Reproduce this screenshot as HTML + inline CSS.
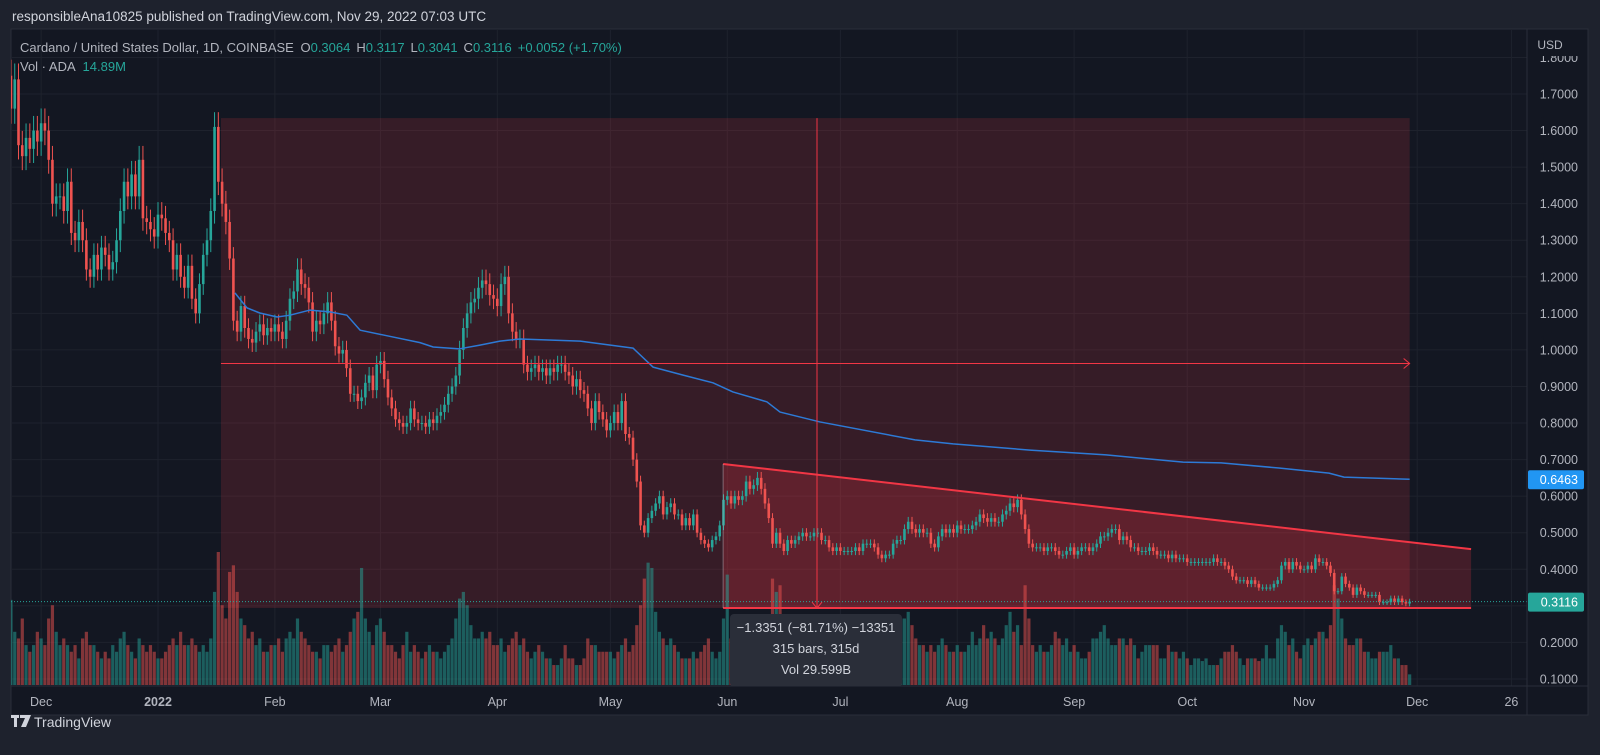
<!DOCTYPE html>
<html><head><meta charset="utf-8"><style>
html,body{margin:0;padding:0;background:#1e222d;}
svg{display:block;font-family:"Liberation Sans",sans-serif;}
</style></head><body>
<svg id="chart" width="1600" height="755" viewBox="0 0 1600 755" xmlns="http://www.w3.org/2000/svg">
<rect x="0" y="0" width="1600" height="755" fill="#1e222d"/>
<text x="12" y="21" fill="#d1d4dc" font-size="13.5">responsibleAna10825 published on TradingView.com, Nov 29, 2022 07:03 UTC</text>
<rect x="11" y="29" width="1577" height="686" fill="#131722" stroke="#2a2e39" stroke-width="1"/>
<g id="grid"></g>
<g id="overlays-back"></g>
<g id="volume"></g>
<g id="candles"></g>
<g id="overlays-front"></g>
<line x1="1527" y1="29" x2="1527" y2="715" stroke="#2a2e39"/>
<line x1="11" y1="686" x2="1588" y2="686" stroke="#2a2e39"/>
<g id="yaxis"></g>
<g id="xaxis"></g>
<text x="20" y="52" font-size="13" fill="#b2b5be">Cardano / United States Dollar, 1D, COINBASE <tspan dx="3">O</tspan><tspan fill="#26a69a">0.3064</tspan><tspan dx="6">H</tspan><tspan fill="#26a69a">0.3117</tspan><tspan dx="6">L</tspan><tspan fill="#26a69a">0.3041</tspan><tspan dx="6">C</tspan><tspan fill="#26a69a">0.3116</tspan><tspan dx="6" fill="#26a69a">+0.0052 (+1.70%)</tspan></text>
<text x="20" y="71" font-size="13" fill="#b2b5be">Vol · ADA <tspan dx="4" fill="#26a69a">14.89M</tspan></text>
<g>
<rect x="11" y="715" width="8" height="3" fill="#d1d4dc"/>
<rect x="14" y="715" width="3" height="12" fill="#d1d4dc"/>
<polygon points="20,715 31,715 26,727 21,727 25,718 20,718" fill="#d1d4dc"/>
<text x="34" y="727" font-size="14" fill="#d1d4dc">TradingView</text>
</g>
</svg>
<script>
const NS="http://www.w3.org/2000/svg";
// ---------- data ----------
const startOffset=-39; // first candle = Nov 23 2021 (days from Jan 1 2022)
const closeNov21=[1.66,1.74,1.56,1.53,1.58,1.55,1.60,1.57];
const closeDec21=[1.62,1.60,1.52,1.40,1.42,1.42,1.38,1.46,1.32,1.30,1.35,1.30,1.22,1.20,1.26,1.22,1.28,1.26,1.22,1.24,1.30,1.38,1.46,1.42,1.48,1.42,1.52,1.36,1.35,1.33,1.31];
const closeJan22=[1.37,1.36,1.32,1.30,1.22,1.26,1.20,1.17,1.23,1.14,1.10,1.18,1.26,1.30,1.38,1.61,1.46,1.40,1.35,1.25,1.08,1.05,1.12,1.06,1.03,1.02,1.05,1.07,1.04,1.06,1.05];
const closeFeb22=[1.07,1.05,1.03,1.08,1.14,1.16,1.22,1.18,1.17,1.13,1.05,1.08,1.07,1.10,1.13,1.08,1.01,0.99,1.00,0.95,0.88,0.88,0.86,0.87,0.91,0.93,0.89,0.96];
const closeMar22=[0.97,0.92,0.87,0.84,0.81,0.80,0.79,0.80,0.84,0.81,0.80,0.80,0.79,0.81,0.80,0.82,0.83,0.85,0.88,0.90,0.93,1.00,1.06,1.10,1.13,1.14,1.17,1.19,1.18,1.15,1.14];
const closeApr22=[1.12,1.18,1.20,1.10,1.05,1.03,1.03,0.96,0.94,0.95,0.96,0.94,0.95,0.93,0.95,0.94,0.96,0.96,0.94,0.93,0.90,0.92,0.89,0.88,0.84,0.80,0.86,0.83,0.81,0.78];
const closeMay22=[0.80,0.83,0.80,0.86,0.77,0.76,0.70,0.64,0.52,0.50,0.54,0.56,0.58,0.60,0.55,0.57,0.58,0.55,0.55,0.52,0.54,0.52,0.55,0.50,0.48,0.47,0.46,0.48,0.49,0.52,0.59];
const closeJun22=[0.60,0.58,0.60,0.59,0.60,0.64,0.62,0.63,0.65,0.62,0.58,0.54,0.47,0.50,0.47,0.45,0.48,0.47,0.48,0.49,0.50,0.49,0.49,0.50,0.50,0.48,0.48,0.46,0.45,0.46];
const closeJul22=[0.45,0.45,0.45,0.45,0.46,0.45,0.47,0.47,0.47,0.46,0.44,0.43,0.44,0.44,0.47,0.48,0.48,0.51,0.53,0.51,0.50,0.51,0.50,0.50,0.47,0.46,0.49,0.51,0.50,0.51,0.50];
const closeAug22=[0.52,0.51,0.51,0.51,0.52,0.53,0.55,0.54,0.53,0.54,0.53,0.53,0.55,0.56,0.58,0.57,0.59,0.55,0.51,0.47,0.46,0.46,0.46,0.45,0.46,0.46,0.45,0.44,0.44,0.45,0.46];
const closeSep22=[0.44,0.45,0.46,0.46,0.45,0.46,0.47,0.49,0.49,0.50,0.51,0.51,0.48,0.49,0.48,0.46,0.46,0.45,0.45,0.45,0.46,0.45,0.44,0.44,0.44,0.43,0.44,0.43,0.43,0.43];
const closeOct22=[0.42,0.42,0.42,0.42,0.42,0.42,0.42,0.43,0.42,0.42,0.41,0.40,0.38,0.37,0.37,0.37,0.36,0.37,0.36,0.35,0.35,0.35,0.35,0.36,0.37,0.41,0.42,0.40,0.42,0.41,0.40];
const closeNov22=[0.40,0.41,0.40,0.43,0.42,0.42,0.41,0.39,0.34,0.34,0.38,0.36,0.35,0.33,0.35,0.34,0.33,0.33,0.33,0.33,0.31,0.31,0.31,0.32,0.31,0.32,0.31,0.3064,0.3116];
const volNov21=[6.4,4,3.5,5,3,2.5,3,4];
const volDec21=[3.5,3,5,6,4,3,3.5,3,2.5,3,2,3.5,4,3,3,2.5,2,2.5,2,3,2.5,3.5,4,3,2.5,2,3.5,3,2.5,3,2.5];
const volJan22=[2,2,2.5,3,3.5,3,4,3,3,3.5,3,2.5,3,2.5,3.5,7,10,6,5,8.5,9,7,5,4.5,3.5,4,3,3.5,2.5,2.5,3];
const volFeb22=[3,3.5,2.5,3.5,4,3.5,5,4,3.5,3,2.5,2.5,2,3,3,2.5,3,3.5,2.5,3,4,5,5.5,8.8,5,4,3,4.5];
const volMar22=[5,4,3,3,2.5,2,3,4,2.5,3,2.5,2,2.5,3,2.5,2.5,2,2.5,3,3.5,5,6.5,7,6,4.5,3.5,3.5,4,3.5,4,3];
const volApr22=[3,3.5,2.5,3,3.5,4,3,3.5,2.5,2,2.5,3,2.5,2,2,1.5,1.5,2,3,2,2,1.5,1.5,2,3.5,3,3,2.5,2.5,2.5];
const volMay22=[2.5,2,2.5,3,3.5,2.5,3,4.5,6,8,9.2,8.8,5.5,4,3.5,3,3.5,3,2.5,2,2,2,2.5,2,2.5,3,3.5,2.5,2,2.5,5];
const volJun22=[8.3,3.5,3,2.5,2,4.5,4,4,3.5,3.5,3,4,8,7,7.5,4,3.5,3,3.5,3,2.5,3,2.5,2.5,2,2,2,1.8,2,2];
const volJul22=[2,1.8,1.5,2,2.5,2,2.5,2.5,2,1.5,2,2.5,3,3.5,3,4.5,5,5,5.5,4.5,3.5,3,3,2.5,3,2.5,3,3.5,3,2.5,2.5];
const volAug22=[3,2.5,2.5,3,4,3,3.5,4.5,3.5,4,3.5,3,3.5,4.5,5.5,4,4.5,3,7.5,5,3,2.5,3,2.5,2.5,3,4,3.5,3,3.5,2.5];
const volSep22=[3,2.5,2,2,2.5,3.5,3.5,4,4.5,3.5,3,3,3.5,3.5,3,3.5,3,2,2.5,3,3,3,3,2,2,3,2.5,2.5,2,2.5];
const volOct22=[2,1.5,2,2,1.8,2,1.5,1.5,1.5,2,2.5,2.5,3,2.5,2,1.5,2,2,2,1.8,2,3,2,2,3.5,4.5,4,3,3.5,2.5,2];
const volNov22=[3,3.5,3,3.5,4,4,3.5,4.5,7.5,6.5,5,3.5,3,3,3.5,3.5,2.5,2.5,2,2,2.5,2.5,2.5,3,2,2,1.5,1.5,0.8];
const maDays=[20.4,23.6,27,31.6,35,40.3,45.6,50.1,53.6,59.7,69.5,73,80,85.4,90.7,96,112,126,131.3,139.3,147.2,152.5,161.5,165,175.6,200.8,210.9,231.3,251.5,271.9,282,297.3,310.6,314.6,329.7,332];
const maValues=[1.156,1.115,1.101,1.09,1.095,1.109,1.104,1.095,1.054,1.041,1.02,1.008,1.003,1.013,1.024,1.03,1.024,1.005,0.953,0.931,0.91,0.885,0.858,0.83,0.803,0.754,0.743,0.726,0.713,0.693,0.691,0.677,0.663,0.652,0.647,0.6463];
const priceTicks=[1.8,1.7,1.6,1.5,1.4,1.3,1.2,1.1,1.0,0.9,0.8,0.7,0.6,0.5,0.4,0.3,0.2,0.1];
const timeTickDays=[-31,0,31,59,90,120,151,181,212,243,273,304,334,359];
const timeTickLabels=["Dec","2022","Feb","Mar","Apr","May","Jun","Jul","Aug","Sep","Oct","Nov","Dec","26"];
const lastPrice=0.3116, maLast=0.6463;
const boxTop=1.6341, boxBottom=0.294, boxStartDay=16.7, boxEndDay=332, midPrice=0.963, measureDay=174.8;
const trendStartDay=149.9, trendStartPrice=0.688, trendEndDay=348.3, trendEndPrice=0.455;

const closes=[].concat(closeNov21,closeDec21,closeJan22,closeFeb22,closeMar22,closeApr22,closeMay22,closeJun22,closeJul22,closeAug22,closeSep22,closeOct22,closeNov22);
const vols=[].concat(volNov21,volDec21,volJan22,volFeb22,volMar22,volApr22,volMay22,volJun22,volJul22,volAug22,volSep22,volOct22,volNov22);

// ---------- scales ----------
const X=d=>158+d*3.77;
const Y=p=>94+(1.7-p)*365.6;
const VOL_BASE=685, VOL_K=13.3;
function el(tag,attrs,parent){const e=document.createElementNS(NS,tag);for(const k in attrs)e.setAttribute(k,attrs[k]);parent.appendChild(e);return e;}
const clip=el('clipPath',{id:'plotclip'},document.getElementById('chart'));
el('rect',{x:11,y:29,width:1516,height:657},clip);
['grid','overlays-back','volume','candles','overlays-front'].forEach(id=>document.getElementById(id).setAttribute('clip-path','url(#plotclip)'));

// grid
const grid=document.getElementById('grid');
priceTicks.forEach(p=>{const l=el('line',{x1:11,x2:1527,y1:Y(p),y2:Y(p),stroke:'#1e222d','stroke-width':1},grid);

});
timeTickDays.forEach(d=>{const l=el('line',{x1:X(d),x2:X(d),y1:29,y2:686,stroke:'#1e222d','stroke-width':1},grid);

});

// back overlays
const ob=document.getElementById('overlays-back');
const box=el('rect',{x:X(boxStartDay),y:Y(boxTop),width:X(boxEndDay)-X(boxStartDay),height:Y(boxBottom)-Y(boxTop),fill:'rgba(242,54,69,0.16)'},ob);


const tri=el('polygon',{points:`${X(trendStartDay)},${Y(trendStartPrice)} ${X(trendEndDay)},${Y(trendEndPrice)} ${X(trendEndDay)},${Y(boxBottom)} ${X(trendStartDay)},${Y(boxBottom)}`,fill:'rgba(242,54,69,0.22)'},ob);



// volume
const vg=document.getElementById('volume');
closes.forEach((c,i)=>{const o=i?closes[i-1]:c;const h=vols[i]*VOL_K;
const r=el('rect',{x:X(startOffset+i)-1.6,y:VOL_BASE-h,width:3.2,height:h,fill:c>=o?'rgba(38,166,154,0.5)':'rgba(239,83,80,0.5)'},vg);

});

// candles
const cg=document.getElementById('candles');
closes.forEach((c,i)=>{const o=i?closes[i-1]:1.75;const up=c>=o;const col=up?'#26a69a':'#ef5350';
const hi=Math.max(o,c)*1.025, lo=Math.min(o,c)*0.975;const x=X(startOffset+i);
const w=el('line',{x1:x,x2:x,y1:Y(hi),y2:Y(lo),stroke:col,'stroke-width':1},cg);


const b=el('rect',{x:x-1.3,y:Y(Math.max(o,c)),width:2.6,height:Math.max(1,Y(Math.min(o,c))-Y(Math.max(o,c))),fill:col},cg);

});

// front overlays
const of=document.getElementById('overlays-front');
const maPts=maDays.map((d,i)=>X(d)+','+Y(maValues[i])).join(' ');
const ma=el('polyline',{points:maPts,fill:'none',stroke:'#2d7ad6','stroke-width':1.5,'stroke-linejoin':'round'},of);


const hl=el('line',{x1:X(boxStartDay),x2:X(boxEndDay),y1:Y(midPrice),y2:Y(midPrice),stroke:'#f23645','stroke-width':1},of);


const ha=el('polyline',{points:`${X(boxEndDay)-6},${Y(midPrice)-5} ${X(boxEndDay)},${Y(midPrice)} ${X(boxEndDay)-6},${Y(midPrice)+5}`,fill:'none',stroke:'#f23645'},of);


const vl=el('line',{x1:X(measureDay),x2:X(measureDay),y1:Y(boxTop),y2:Y(boxBottom),stroke:'#f23645','stroke-width':1},of);


const va=el('polyline',{points:`${X(measureDay)-5},${Y(boxBottom)-6} ${X(measureDay)},${Y(boxBottom)} ${X(measureDay)+5},${Y(boxBottom)-6}`,fill:'none',stroke:'#f23645'},of);


const tl=el('line',{x1:X(trendStartDay),y1:Y(trendStartPrice),x2:X(trendEndDay),y2:Y(trendEndPrice),stroke:'#f23645','stroke-width':2},of);


const bl=el('line',{x1:X(trendStartDay),y1:Y(boxBottom),x2:X(trendEndDay),y2:Y(boxBottom),stroke:'#f23645','stroke-width':2},of);


const tv=el('line',{x1:X(trendStartDay),y1:Y(trendStartPrice),x2:X(trendStartDay),y2:Y(boxBottom),stroke:'rgba(180,180,190,0.5)','stroke-width':1},of);


const pl=el('line',{x1:11,x2:1527,y1:Y(lastPrice),y2:Y(lastPrice),stroke:'#26a69a','stroke-width':1,'stroke-dasharray':'1 2'},of);


// tooltip
const tip=el('rect',{x:730,y:614,width:172,height:73,rx:4,fill:'#2a2e39'},of);


["−1.3351 (−81.71%) −13351","315 bars, 315d","Vol 29.599B"].forEach((t,i)=>{const tx=el('text',{x:816,y:632+i*21,'text-anchor':'middle','font-size':13,fill:'#d1d4dc'},of);tx.textContent=t;

});

// price axis
const ya=document.getElementById('yaxis');
priceTicks.forEach(p=>{const y=Y(p);const t=el('text',{x:1578,y:y+4.5,'text-anchor':'end','font-size':12.5,fill:'#b2b5be'},ya);t.textContent=p.toFixed(4);

});
const cover=el('rect',{x:1528,y:30,width:59,height:26,fill:'#131722'},ya);


const usd=el('text',{x:1550,y:49,'text-anchor':'middle','font-size':12,fill:'#b2b5be'},ya);usd.textContent='USD';


[[maLast,'#2196f3'],[lastPrice,'#26a69a']].forEach(([p,c])=>{const r=el('rect',{x:1528,y:Y(p)-9,width:56,height:19,rx:2,fill:c},ya);


const t=el('text',{x:1578,y:Y(p)+5,'text-anchor':'end','font-size':12.5,fill:'#ffffff'},ya);t.textContent=p.toFixed(4);

});

// time axis
const xa=document.getElementById('xaxis');
timeTickDays.forEach((d,i)=>{const t=el('text',{x:X(d),y:706,'text-anchor':'middle','font-size':12.5,fill:'#b2b5be','font-weight':timeTickLabels[i]==='2022'?'bold':'normal'},xa);t.textContent=timeTickLabels[i];

});
</script>
</body></html>
